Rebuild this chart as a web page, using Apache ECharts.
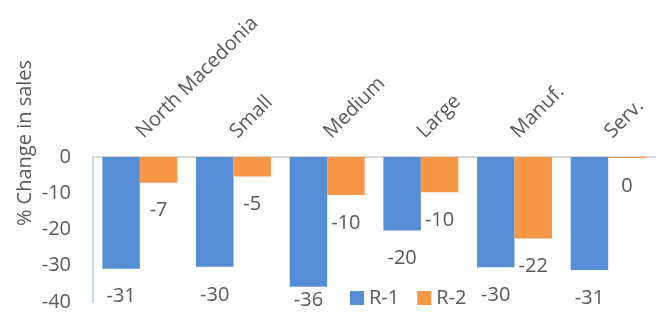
<!DOCTYPE html>
<html><head><meta charset="utf-8">
<script src="https://cdn.jsdelivr.net/npm/echarts@6/dist/echarts.min.js"></script>
<style>html,body{margin:0;padding:0;background:#fff}#c{width:659px;height:312px}</style>
</head><body><div id="c"></div>
<script>
const categories = ["North Macedonia", "Small", "Medium", "Large", "Manuf.", "Serv."];
const seriesNames = ["R-1", "R-2"];
const r1Values = [-30.8, -30.3, -35.8, -20.3, -30.4, -31.2];
const r2Values = [-7.1, -5.4, -10.5, -9.7, -22.5, -0.3];
const yTicks = { min: -40, max: 0, interval: 10 };
const yTitle = '% Change in sales';

const txt = '#595959';
const font = 'Open Sans';
const lbl = {
  show: true, position: 'bottom', distance: 18,
  color: txt, fontFamily: font, fontSize: 20,
  formatter: p => String(Math.round(p.value) === 0 ? 0 : Math.round(p.value))
};
// labels that would fall below the plot are pulled up (as the original does)
const toData = arr => arr.map(v => v < -34 ? { value: v, label: { distance: 4 } } : v);
const chart = echarts.init(document.getElementById('c'));
chart.setOption({
  animation: false,
  grid: { left: 93, right: 4, top: 157, bottom: 10, outerBoundsMode: 'none', containLabel: false },
  graphic: [{
    type: 'text', x: 25, y: 143, rotation: Math.PI / 2,
    style: { text: yTitle, fill: txt, fontFamily: font, fontSize: 20, align: 'center', verticalAlign: 'middle' }
  }],
  legend: {
    data: seriesNames, left: 345, top: 283, itemWidth: 14, itemHeight: 14, itemGap: 18,
    icon: 'rect', textStyle: { color: txt, fontFamily: font, fontSize: 20 }
  },
  xAxis: {
    type: 'category', data: categories, position: 'top',
    axisLine: { lineStyle: { color: '#d9d9d9', width: 2 } },
    axisTick: { show: false },
    axisLabel: { rotate: 45, color: txt, fontFamily: font, fontSize: 20, margin: 22, interval: 0 }
  },
  yAxis: {
    type: 'value', min: yTicks.min, max: yTicks.max, interval: yTicks.interval,
    axisLine: { show: true, lineStyle: { color: '#c5d5ec', width: 2 } },
    axisTick: { show: false },
    splitLine: { show: false },
    axisLabel: { color: txt, fontFamily: font, fontSize: 20, margin: 22 }
  },
  series: [
    { name: seriesNames[0], type: 'bar', data: toData(r1Values), barGap: '0%', barCategoryGap: '20%',
      itemStyle: { color: '#558ed5' }, label: lbl },
    { name: seriesNames[1], type: 'bar', data: toData(r2Values),
      itemStyle: { color: '#f79646' }, label: lbl }
  ]
});
</script></body></html>
